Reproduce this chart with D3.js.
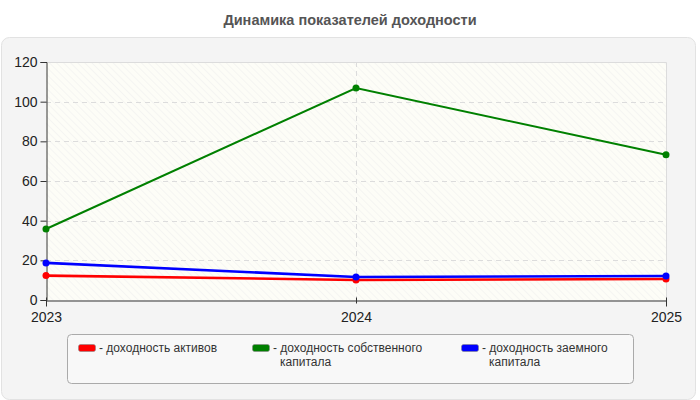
<!DOCTYPE html>
<html>
<head>
<meta charset="utf-8">
<script src="https://cdn.jsdelivr.net/npm/d3@7"></script>
<style>
body{margin:0;background:#fff;font-family:"Liberation Sans",Arial,sans-serif;}
</style>
</head>
<body>
<div id="chart"></div>
<script>
// data
var years=['2023','2024','2025'];
var yTicks=[0,20,40,60,80,100,120];
var seriesNames=['доходность активов','доходность собственного капитала','доходность заемного капитала'];
var seriesColors=['#ff0000','#008000','#0000ff'];
var assetsVals=[12.3,10.1,10.6];
var equityVals=[35.8,106.9,73.2];
var loanVals=[18.7,11.6,12.1];

var W=700,H=400;
var m={l:46,r:34,t:62,b:100};
var svg=d3.select('#chart').append('svg')
    .attr('width',W).attr('height',H);

var defs=svg.append('defs');
var pat=defs.append('pattern')
    .attr('id','hatch')
    .attr('patternUnits','userSpaceOnUse')
    .attr('width',5).attr('height',5)
    .attr('patternTransform','rotate(-45)');
pat.append('rect').attr('width',5).attr('height',5).attr('fill','#fdfdf7');
pat.append('line').attr('x1',0).attr('y1',0).attr('x2',0).attr('y2',5)
    .attr('stroke','#ededed').attr('stroke-width',1);

// title
svg.append('text')
    .attr('x',W/2).attr('y',25)
    .attr('text-anchor','middle')
    .attr('font-size','14.5px').attr('font-weight','bold')
    .attr('fill','#555')
    .text('Динамика показателей доходности');

// outer panel
svg.append('rect')
    .attr('x',1.5).attr('y',37.5).attr('width',694).attr('height',362)
    .attr('rx',8)
    .attr('fill','#f4f4f4').attr('stroke','#e2e2e2');

var x=d3.scalePoint().domain(years).range([m.l,W-m.r]);
var y=d3.scaleLinear().domain([0,120]).range([H-m.b,m.t]);

var g=svg.append('g');
g.append('rect')
    .attr('x',m.l).attr('y',m.t)
    .attr('width',W-m.r-m.l).attr('height',H-m.b-m.t)
    .attr('fill','url(#hatch)');
// top/right light border
g.append('path')
    .attr('d',d3.line()([[m.l,m.t+.5],[W-m.r+.5,m.t+.5],[W-m.r+.5,H-m.b]]))
    .attr('fill','none').attr('stroke','#dcdcdc').attr('stroke-width',1);

// grid
g.selectAll('.hgrid').data(yTicks.filter(function(d){return d>0&&d<120;}))
    .enter().append('line')
    .attr('class','hgrid')
    .attr('x1',m.l).attr('x2',W-m.r)
    .attr('y1',function(d){return Math.round(y(d))+.5;})
    .attr('y2',function(d){return Math.round(y(d))+.5;})
    .attr('stroke','#dcdcdc').attr('stroke-dasharray','5,4');
g.append('line')
    .attr('x1',Math.round(x('2024'))+.5).attr('x2',Math.round(x('2024'))+.5)
    .attr('y1',m.t).attr('y2',H-m.b)
    .attr('stroke','#dcdcdc').attr('stroke-dasharray','5,4');

// axes
var ya=g.append('g')
    .attr('transform','translate('+(m.l+.5)+',0)')
    .call(d3.axisLeft(y).tickValues(yTicks).tickSize(6).tickPadding(3));
var xa=g.append('g')
    .attr('transform','translate(0,'+(H-m.b+.5)+')')
    .call(d3.axisBottom(x).tickSize(6).tickPadding(2));
[ya,xa].forEach(function(a){
    a.select('.domain').attr('stroke','#333');
    a.selectAll('.tick line').attr('stroke','#333');
    a.selectAll('text').attr('font-size','14px').attr('fill','#222')
        .attr('font-family','"Liberation Sans",Arial,sans-serif');
});
xa.selectAll('.tick line').attr('y1',-3).attr('y2',3);
xa.selectAll('text').attr('dy','0.95em');

// lines
var allSeries=[assetsVals,equityVals,loanVals];
var line=d3.line().x(function(d,i){return x(years[i]);}).y(function(d){return y(d);});
allSeries.forEach(function(vals,k){
    var sg=g.append('g');
    sg.append('path')
        .attr('d',line(vals))
        .attr('fill','none')
        .attr('stroke',seriesColors[k])
        .attr('stroke-width',k==1?2:2.6);
    sg.selectAll('circle').data(vals).enter().append('circle')
        .attr('cx',function(d,i){return x(years[i]);})
        .attr('cy',function(d){return y(d);})
        .attr('r',3.5)
        .attr('fill',seriesColors[k]);
});

// legend
var lg=svg.append('g');
lg.append('rect')
    .attr('x',67.5).attr('y',334.5).attr('width',566).attr('height',49)
    .attr('rx',4)
    .attr('fill','#f8f8f8').attr('stroke','#aaa');
var legX=[78,252,461];
var legLines=[['- доходность активов'],['- доходность собственного','капитала'],['- доходность заемного','капитала']];
seriesNames.forEach(function(n,k){
    var it=lg.append('g').attr('transform','translate('+legX[k]+',344)');
    it.append('rect')
        .attr('x',.5).attr('y',.5).attr('width',17).attr('height',7)
        .attr('rx',2)
        .attr('fill',seriesColors[k]).attr('stroke','#888').attr('stroke-width',.6);
    legLines[k].forEach(function(s,j){
        it.append('text')
            .attr('x',j==0?21:28)
            .attr('y',8+j*13.5)
            .attr('font-size','12px').attr('fill','#333')
            .text(s);
    });
});
</script>
</body>
</html>
